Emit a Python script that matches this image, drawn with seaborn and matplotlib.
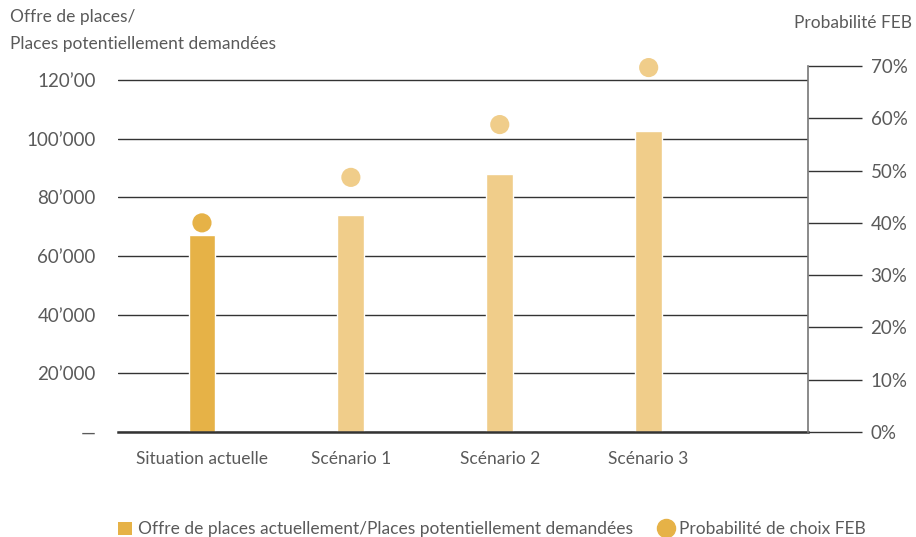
import numpy as np
import matplotlib
matplotlib.use("Agg")
import matplotlib.pyplot as plt
from matplotlib.patches import Patch
from matplotlib.lines import Line2D
from matplotlib.ticker import FixedFormatter
import seaborn as sns

# data
categories = ["Situation actuelle", "Scénario 1", "Scénario 2", "Scénario 3"]
places = [67000, 74000, 88000, 102500]
proba = [40.0, 48.7, 58.8, 69.7]
left_ticks = [0, 20000, 40000, 60000, 80000, 100000, 120000]
left_labels = ["—", "20’000", "40’000", "60’000", "80’000", "100’000", "120’00"]
right_ticks = [0, 10, 20, 30, 40, 50, 60, 70]
right_labels = ["0%", "10%", "20%", "30%", "40%", "50%", "60%", "70%"]

DARK = "#E6B247"
LIGHT = "#F0CD8A"
colors = [DARK, LIGHT, LIGHT, LIGHT]
TXT = "#5a5a5a"

sns.set_theme(style="white")
plt.rcParams["font.family"] = ["Lato", "DejaVu Sans"]

fig = plt.figure(figsize=(9.16, 5.37), dpi=100)
ax = fig.add_axes([118 / 916, 1 - 432 / 537, (808 - 118) / 916, (432 - 66) / 537])

sns.barplot(x=categories, y=places, hue=categories, palette=colors,
            legend=False, width=0.18, saturation=1, ax=ax)
ax.set_xlim(-0.564, 4.07)
ax.set_ylim(0, 124770)
ax.set_yticks(left_ticks)
ax.yaxis.set_major_formatter(FixedFormatter(left_labels))
ax.set_axisbelow(True)
ax.yaxis.grid(True, color="#333333", linewidth=1)
ax.xaxis.grid(False)
for s in ["top", "left", "right"]:
    ax.spines[s].set_visible(False)
ax.spines["bottom"].set_color("#333333")
ax.spines["bottom"].set_linewidth(1.8)
ax.tick_params(axis="y", length=0, pad=16, labelsize=13.5, labelcolor=TXT)
ax.tick_params(axis="x", length=0, pad=14, labelsize=12.5, labelcolor=TXT)
ax.set_xlabel("")
ax.set_ylabel("")

ax2 = ax.twinx()
sns.scatterplot(x=np.arange(len(categories)), y=proba, hue=categories,
                palette=colors, legend=False, s=190, linewidth=0, ax=ax2,
                zorder=5, clip_on=False)
ax2.set_ylim(0, 70)
ax2.set_yticks(right_ticks)
ax2.yaxis.set_major_formatter(FixedFormatter(right_labels))
for s in ["top", "left", "bottom"]:
    ax2.spines[s].set_visible(False)
ax2.spines["right"].set_color("#777777")
ax2.spines["right"].set_linewidth(1.2)
ax2.tick_params(axis="y", direction="out", length=39, width=1, color="#333333",
                pad=6, labelsize=13.5, labelcolor=TXT)
ax2.set_ylabel("")

fig.text(10 / 916, 1 - 9 / 537, "Offre de places/\nPlaces potentiellement demandées",
         ha="left", va="top", fontsize=12.5, color=TXT, linespacing=1.85)
fig.text(912 / 916, 1 - 23 / 537, "Probabilité FEB", ha="right", va="center",
         fontsize=12.5, color=TXT)

handles = [
    Patch(facecolor=DARK, edgecolor="none",
          label="Offre de places actuellement/Places potentiellement demandées"),
    Line2D([], [], marker="o", linestyle="none", markersize=13, color=DARK,
           label="Probabilité de choix FEB"),
]
fig.legend(handles=handles, loc="lower left", bbox_to_anchor=(102 / 916, -0.03),
           ncol=2, frameon=False, fontsize=12.5, handlelength=0.85, handleheight=0.85,
           handletextpad=0.3, columnspacing=1.5, labelcolor=TXT)

fig.savefig("out.png", dpi=100)
